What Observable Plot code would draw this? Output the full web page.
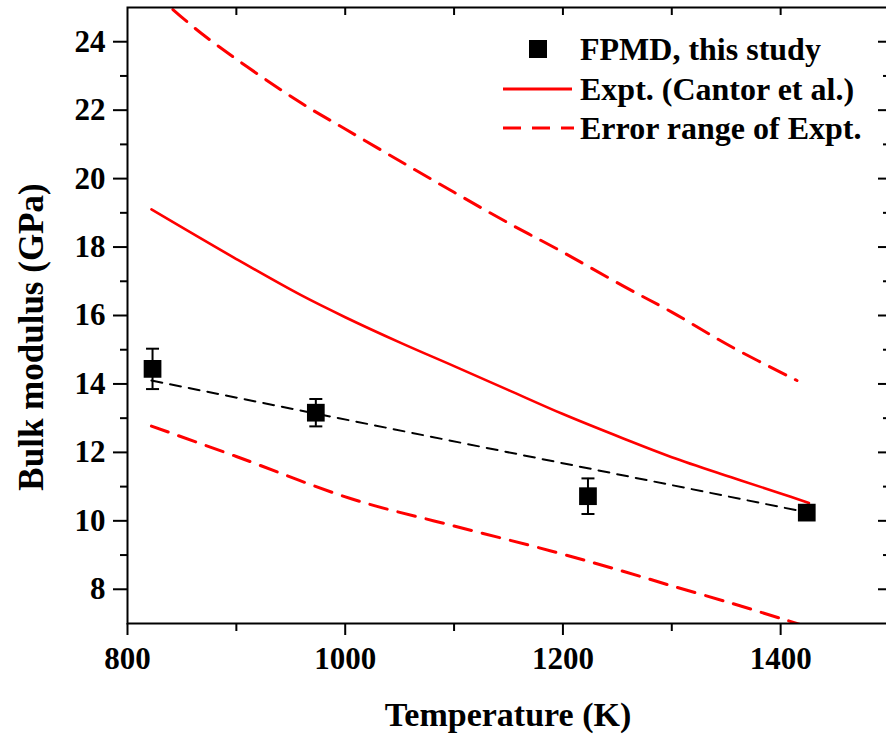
<!DOCTYPE html>
<html>
<head>
<meta charset="utf-8">
<script src="https://cdn.jsdelivr.net/npm/d3@7"></script>
<script src="https://cdn.jsdelivr.net/npm/@observablehq/plot@0.6"></script>
<style>
  html, body { margin: 0; padding: 0; background: #fff; overflow: hidden; }
  #chart svg { display: block; }
  #chart [aria-label$="axis tick"] { stroke-width: 2px; }
</style>
</head>
<body>
<div id="chart"></div>
<script>
// ---- data ----
const expT = [822, 900, 959, 1000, 1051, 1100, 1150, 1200, 1256, 1300, 1354, 1400, 1426];
const expK = [19.1, 17.65, 16.6, 15.95, 15.2, 14.52, 13.82, 13.12, 12.4, 11.86, 11.28, 10.8, 10.52];

const upperT = [822, 868, 956, 1000, 1051, 1100, 1150, 1200, 1256, 1300, 1354, 1415];
const upperK = [25.5, 24.24, 22.28, 21.45, 20.5, 19.6, 18.7, 17.85, 16.85, 16.1, 15.1, 14.1];

const lowerT = [822, 900, 1007, 1100, 1189, 1256, 1300, 1354, 1403, 1430];
const lowerK = [12.77, 11.88, 10.63, 9.85, 9.12, 8.52, 8.1, 7.6, 7.12, 6.85];

const fpmdT = [823, 973, 1223, 1424];
const fpmdK = [14.44, 13.16, 10.72, 10.24];
const fpmdErr = [0.59, 0.4, 0.52, 0.2];

const fitT = [822, 1424];
const fitK = [14.1, 10.25];

const xTicks = [800, 1000, 1200, 1400];
const xMinor = [900, 1100, 1300];
const xTop = [900, 1000, 1100, 1200, 1300, 1400];
const yTicks = [8, 10, 12, 14, 16, 18, 20, 22, 24];
const yMinor = [9, 11, 13, 15, 17, 19, 21, 23];

const xLabel = "Temperature (K)";
const yLabel = "Bulk modulus (GPa)";
const legendLabels = ["FPMD, this study", "Expt. (Cantor et al.)", "Error range of Expt."];

// ---- tables ----
const expt = expT.map((t, i) => ({T: t, K: expK[i]}));
const upper = upperT.map((t, i) => ({T: t, K: upperK[i]}));
const lower = lowerT.map((t, i) => ({T: t, K: lowerK[i]}));
const fpmd = fpmdT.map((t, i) => ({T: t, K: fpmdK[i], e: fpmdErr[i]}));
const fit = fitT.map((t, i) => ({T: t, K: fitK[i]}));

const RED = "#ff0000";
const FONT = "'Liberation Serif', 'Times New Roman', serif";

const W = 886, H = 740;
const mL = 127, mR = -3, mT = 7, mB = 117;
const innerW = W - mL - mR, innerH = H - mT - mB;

const capSymbol = {draw(ctx) { ctx.moveTo(-6.5, 0); ctx.lineTo(6.5, 0); }};

const svg = Plot.plot({
  width: W,
  height: H,
  marginLeft: mL,
  marginRight: mR,
  marginTop: mT,
  marginBottom: mB,
  style: {fontFamily: FONT, fontSize: "31px", fontWeight: "bold", color: "#000", background: "#fff", overflow: "visible"},
  x: {domain: [800, 1500], ticks: xTicks, tickSize: 12, tickPadding: 11, tickFormat: d => String(d), label: null},
  y: {domain: [7, 25], ticks: yTicks, tickSize: 14, tickPadding: 8, tickFormat: d => String(d), label: null},
  marks: [
    Plot.line(upper, {x: "T", y: "K", stroke: RED, strokeWidth: 3, strokeDasharray: "18,11", curve: "catmull-rom", clip: true}),
    Plot.line(lower, {x: "T", y: "K", stroke: RED, strokeWidth: 3, strokeDasharray: "18,11", curve: "catmull-rom", clip: true}),
    Plot.line(expt, {x: "T", y: "K", stroke: RED, strokeWidth: 2.6, curve: "catmull-rom", clip: true}),
    Plot.line(fit, {x: "T", y: "K", stroke: "#000", strokeWidth: 2, strokeDasharray: "11,8"}),
    Plot.ruleX(fpmd, {x: "T", y1: d => d.K - d.e, y2: d => d.K + d.e, stroke: "#000", strokeWidth: 2}),
    Plot.dot(fpmd, {x: "T", y: d => d.K + d.e, symbol: capSymbol, stroke: "#000", strokeWidth: 2, r: 5}),
    Plot.dot(fpmd, {x: "T", y: d => d.K - d.e, symbol: capSymbol, stroke: "#000", strokeWidth: 2, r: 5}),
    Plot.dot(fpmd, {x: "T", y: "K", symbol: "square", r: 10, fill: "#000", stroke: null}),
    Plot.tickY(yMinor, {y: d => d, insetLeft: -7, insetRight: innerW, stroke: "#000", strokeWidth: 2}),
    Plot.tickX(xMinor, {x: d => d, insetTop: innerH, insetBottom: -8, stroke: "#000", strokeWidth: 2}),
    Plot.tickX(xTop, {x: d => d, insetBottom: innerH - 8, stroke: "#000", strokeWidth: 2}),
    Plot.tickY(yTicks, {y: d => d, insetLeft: innerW - 11, stroke: "#000", strokeWidth: 2}),
    Plot.tickY(yMinor, {y: d => d, insetLeft: innerW - 6, stroke: "#000", strokeWidth: 2}),
    Plot.frame({stroke: "#000", strokeWidth: 2})
  ]
});

const root = d3.select(svg);

// ---- axis titles ----
root.append("text")
  .attr("x", mL + innerW / 2).attr("y", 726)
  .attr("text-anchor", "middle")
  .attr("font-family", FONT).attr("font-size", 34).attr("font-weight", "bold").attr("fill", "#000")
  .text(xLabel);
root.append("text")
  .attr("transform", "translate(43,337) rotate(-90)")
  .attr("text-anchor", "middle")
  .attr("font-family", FONT).attr("font-size", 35).attr("font-weight", "bold").attr("fill", "#000")
  .text(yLabel);

// ---- legend ----
const g = root.append("g").attr("aria-label", "legend")
  .attr("font-family", FONT).attr("font-size", 32).attr("font-weight", "bold");
const rows = [49, 89, 128];
g.append("rect").attr("x", 529).attr("y", 40).attr("width", 18).attr("height", 18).attr("fill", "#000");
g.append("line").attr("x1", 503).attr("x2", 572).attr("y1", rows[1]).attr("y2", rows[1])
  .attr("stroke", RED).attr("stroke-width", 3);
g.append("line").attr("x1", 503).attr("x2", 574).attr("y1", rows[2]).attr("y2", rows[2])
  .attr("stroke", RED).attr("stroke-width", 3).attr("stroke-dasharray", "18,11");
legendLabels.forEach((lab, i) => {
  g.append("text").attr("x", 580).attr("y", rows[i]).attr("dy", "0.34em")
    .attr("text-anchor", "start").attr("fill", "#000").text(lab);
});

document.getElementById("chart").appendChild(svg);
</script>
</body>
</html>
